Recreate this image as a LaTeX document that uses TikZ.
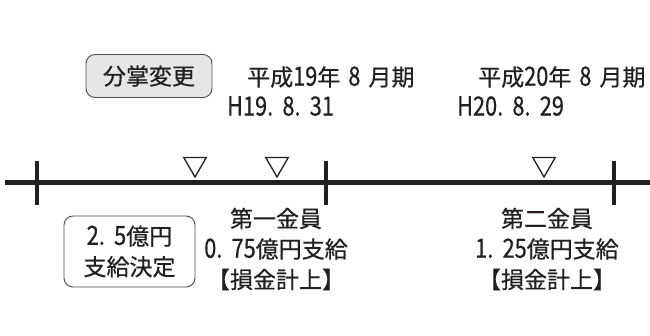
\documentclass[tikz,border=0pt]{standalone}
\usepackage{fontspec}
\setmainfont{Noto Sans CJK JP}[FakeBold=0.6]
\newfontfamily\digitfont{Noto Sans CJK JP}[FakeBold=0.6, FakeStretch=0.82]
\newcommand{\dg}[1]{{\digitfont\fontsize{26.5}{30.5}\selectfont #1}}
\usetikzlibrary{shapes.geometric}
\definecolor{ink}{HTML}{231F20}
\definecolor{boxgray}{HTML}{E6E6E6}
\tikzset{
  txt/.style={text=ink, font=\fontsize{23}{30.5}\selectfont, inner sep=0pt},
  rbox/.style={draw=ink!80, line width=0.9pt, rounded corners=9pt, inner sep=0pt},
  tri/.style={draw=ink, line width=1.3pt, regular polygon, regular polygon sides=3,
    shape border rotate=180, minimum size=26pt, inner sep=0pt, outer sep=0pt},
  axis/.style={draw=ink, line width=5pt},
  tick/.style={draw=ink, line width=3.2pt},
}
\newcommand{\gp}{\hspace{0.35em}}
\begin{document}
\begin{tikzpicture}[x=1pt,y=-1pt]
\useasboundingbox (0,0) rectangle (650,336);
% top box
\node[rbox, fill=boxgray, minimum width=126pt, minimum height=43pt] (bunsho) at (149,76) {};
\node[txt] (bunshotxt) at (bunsho.center) {分掌変更};
% top labels
\node[txt, anchor=west] (h19a) at (247,77) {平成\dg{19}年\gp{}\dg{8}\gp{}月期};
\node[txt, anchor=west] (h19b) at (227,106) {\dg{H19.\gp{}8.\gp{}31}};
\node[txt, anchor=west] (h20a) at (478,77) {平成\dg{20}年\gp{}\dg{8}\gp{}月期};
\node[txt, anchor=west] (h20b) at (457,106) {\dg{H20.\gp{}8.\gp{}29}};
% axis
\coordinate (L) at (5,183);
\coordinate (R) at (650,183);
\draw[axis] (L) -- (R);
\coordinate (k1t) at (37,161); \coordinate (k1b) at (37,205);
\coordinate (k2t) at (326,161); \coordinate (k2b) at (326,205);
\coordinate (k3t) at (614,161); \coordinate (k3b) at (614,205);
\draw[tick] (k1t) -- (k1b);
\draw[tick] (k2t) -- (k2b);
\draw[tick] (k3t) -- (k3b);
% triangles
\node[tri] (t1) at (195,164) {};
\node[tri] (t2) at (277,164) {};
\node[tri] (t3) at (544,164) {};
% bottom box
\node[rbox, fill=white, minimum width=131pt, minimum height=71pt] (kettei) at (129.5,251.5) {};
\node[txt, align=center] (ketteitxt) at (kettei.center) {\dg{2.\gp{}5}億円\\支給決定};
% payments
\node[txt, align=center] (pay1) at (276,249) {第一金員\\\dg{0.\gp{}75}億円支給\\【損金計上】};
\node[txt, align=center] (pay2) at (547,249) {第二金員\\\dg{1.\gp{}25}億円支給\\【損金計上】};
\end{tikzpicture}
\end{document}
